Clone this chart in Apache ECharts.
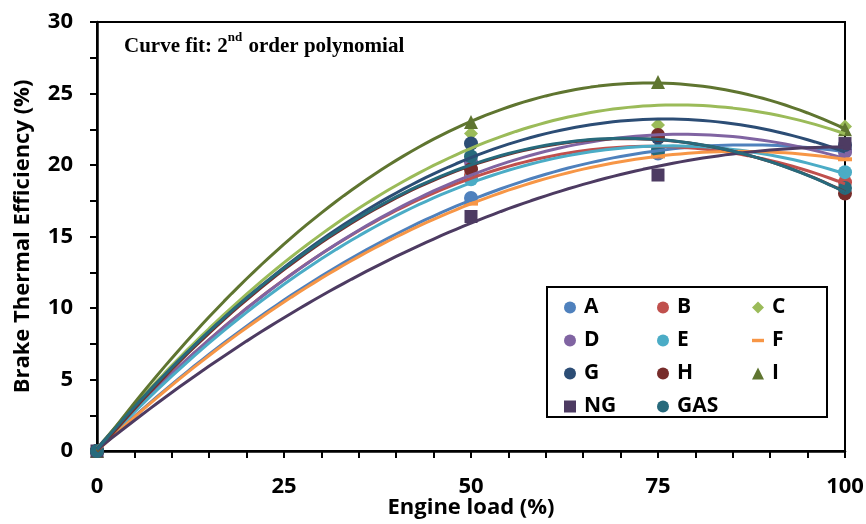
<!DOCTYPE html>
<html>
<head>
<meta charset="utf-8">
<script src="https://cdn.jsdelivr.net/npm/echarts@6/dist/echarts.min.js"></script>
<style>
  html, body { margin: 0; padding: 0; background: #ffffff; }
  #btePlot { width: 866px; height: 524px; }
</style>
</head>
<body>
<div id="btePlot"></div>
<script>
// engine load (%) where efficiency was measured
const loads = [0, 50, 75, 100];

// brake thermal efficiency (%) per fuel
const A = [0, 17.7, 20.8, 21.0];
const B = [0, 19.3, 21.0, 18.8];
const C = [0, 22.2, 22.8, 22.7];
const D = [0, 20.2, 20.9, 20.9];
const E = [0, 19.0, 21.0, 19.5];
const F = [0, 17.3, 20.6, 20.4];
const G = [0, 21.5, 21.9, 21.4];
const H = [0, 19.7, 22.1, 18.0];
const I = [0, 23.0, 25.8, 22.5];
const NG = [0, 16.4, 19.3, 21.5];
const GAS = [0, 20.6, 21.0, 18.4];

const fuels = [
  { name: "A", data: A, color: "#4f81bd", symbol: "circle" },
  { name: "B", data: B, color: "#c0504d", symbol: "circle" },
  { name: "C", data: C, color: "#9bbb59", symbol: "diamond" },
  { name: "D", data: D, color: "#8064a2", symbol: "circle" },
  { name: "E", data: E, color: "#4bacc6", symbol: "circle" },
  { name: "F", data: F, color: "#f79646", symbol: "rect" },
  { name: "G", data: G, color: "#2c4d75", symbol: "circle" },
  { name: "H", data: H, color: "#772c2a", symbol: "circle" },
  { name: "I", data: I, color: "#5f7530", symbol: "triangle" },
  { name: "NG", data: NG, color: "#4d3b62", symbol: "rect" },
  { name: "GAS", data: GAS, color: "#276a7c", symbol: "circle" }
];

// least squares 2nd order polynomial (like the excel trendline)
function polyFit2(xs, ys) {
  let s = [0, 0, 0, 0, 0], t = [0, 0, 0];
  xs.forEach((x, i) => {
    for (let k = 0; k < 5; k++) s[k] += Math.pow(x, k);
    for (let k = 0; k < 3; k++) t[k] += ys[i] * Math.pow(x, k);
  });
  let m = [
    [s[0], s[1], s[2], t[0]],
    [s[1], s[2], s[3], t[1]],
    [s[2], s[3], s[4], t[2]]
  ];
  for (let c = 0; c < 3; c++) {
    for (let r = c + 1; r < 3; r++) {
      let f = m[r][c] / m[c][c];
      for (let k = c; k < 4; k++) m[r][k] -= f * m[c][k];
    }
  }
  let coef = [0, 0, 0];
  for (let r = 2; r >= 0; r--) {
    let v = m[r][3];
    for (let k = r + 1; k < 3; k++) v -= m[r][k] * coef[k];
    coef[r] = v / m[r][r];
  }
  return coef;
}

const fontMain = "Open Sans";
let seriesList = [];

fuels.forEach(f => {
  seriesList.push({
    name: f.name,
    type: "scatter",
    symbol: f.symbol,
    symbolSize: f.name === "F" ? [14, 4] : (f.symbol === "rect" ? 13 : 14),
    itemStyle: { color: f.color, opacity: 1 },
    z: 3,
    data: loads.map((x, i) => [x, f.data[i]])
  });
});

fuels.forEach(f => {
  let c = polyFit2(loads, f.data);
  let pts = [];
  for (let x = 0; x <= 100; x++) pts.push([x, c[0] + c[1] * x + c[2] * x * x]);
  seriesList.push({
    name: f.name + " fit",
    type: "line",
    showSymbol: false,
    smooth: false,
    lineStyle: { color: f.color, width: 3 },
    z: 4,
    silent: true,
    data: pts
  });
});

const legendText = {
  fontFamily: fontMain,
  fontWeight: "bold",
  fontSize: 21,
  lineHeight: 20,
  color: "#000",
  padding: [0, 0, 0, 3]
};

function legendCol(names, left) {
  return {
    orient: "vertical",
    left: left,
    top: 292,
    z: 8,
    itemWidth: 12,
    itemHeight: 12,
    itemGap: 12,
    textStyle: legendText,
    selectedMode: false,
    data: names.map(n => {
      let f = fuels.find(q => q.name === n);
      let icon = f.symbol === "circle" ? "circle" :
        f.symbol === "diamond" ? "diamond" :
        f.symbol === "triangle" ? "triangle" :
        n === "F" ? "path://M0 0H14V4H0Z" : "rect";
      return { name: n, icon: icon };
    })
  };
}

let option = {
  animation: false,
  backgroundColor: "#ffffff",
  grid: {
    left: 97,
    right: 21,
    top: 22,
    bottom: 73,
    outerBoundsMode: "none",
    show: true,
    borderColor: "#000",
    borderWidth: 2
  },
  legend: [
    legendCol(["A", "D", "G", "NG"], 559),
    legendCol(["B", "E", "H", "GAS"], 652),
    legendCol(["C", "F", "I"], 747)
  ],
  graphic: [
    {
      type: "rect",
      shape: { x: 547, y: 287, width: 280, height: 130 },
      style: { fill: "#fff", stroke: "#000", lineWidth: 2 },
      z: 5
    },
    {
      type: "text",
      left: 124,
      top: 31,
      style: {
        text: "{n|Curve fit: 2}{s|nd}{n| order polynomial}",
        rich: {
          n: { fontFamily: "Liberation Serif", fontWeight: "bold", fontSize: 21, color: "#000", lineHeight: 26, verticalAlign: "bottom" },
          s: { fontFamily: "Liberation Serif", fontWeight: "bold", fontSize: 13, color: "#000", lineHeight: 26, verticalAlign: "top", padding: [0, 1, 0, 0] }
        }
      }
    }
  ],
  xAxis: {
    type: "value",
    min: 0,
    max: 100,
    interval: 5,
    name: "Engine load (%)",
    nameLocation: "middle",
    nameGap: 46,
    nameMoveOverlap: false,
    nameTextStyle: { fontFamily: fontMain, fontWeight: "bold", fontSize: 22, color: "#000" },
    axisLine: { lineStyle: { color: "#000", width: 2.5 } },
    axisTick: { show: true, length: 7, inside: false, lineStyle: { color: "#000", width: 2 } },
    axisLabel: {
      margin: 25,
      fontFamily: fontMain,
      fontWeight: "bold",
      fontSize: 22,
      color: "#000",
      formatter: v => (v % 25 === 0 ? String(v) : "")
    },
    splitLine: { show: false }
  },
  yAxis: {
    type: "value",
    min: 0,
    max: 30,
    interval: 2.5,
    name: "Brake Thermal Efficiency (%)",
    nameLocation: "middle",
    nameGap: 63,
    nameMoveOverlap: false,
    nameTextStyle: { fontFamily: fontMain, fontWeight: "bold", fontSize: 22, color: "#000" },
    axisLine: { show: true, lineStyle: { color: "#000", width: 2.5 } },
    axisTick: { show: true, length: 7, inside: false, lineStyle: { color: "#000", width: 2 } },
    axisLabel: {
      margin: 24,
      fontFamily: fontMain,
      fontWeight: "bold",
      fontSize: 22,
      color: "#000",
      formatter: v => (v % 5 === 0 ? String(v) : "")
    },
    splitLine: { show: false }
  },
  series: seriesList
};

let myChart = echarts.init(document.getElementById("btePlot"));
myChart.setOption(option);
</script>
</body>
</html>
